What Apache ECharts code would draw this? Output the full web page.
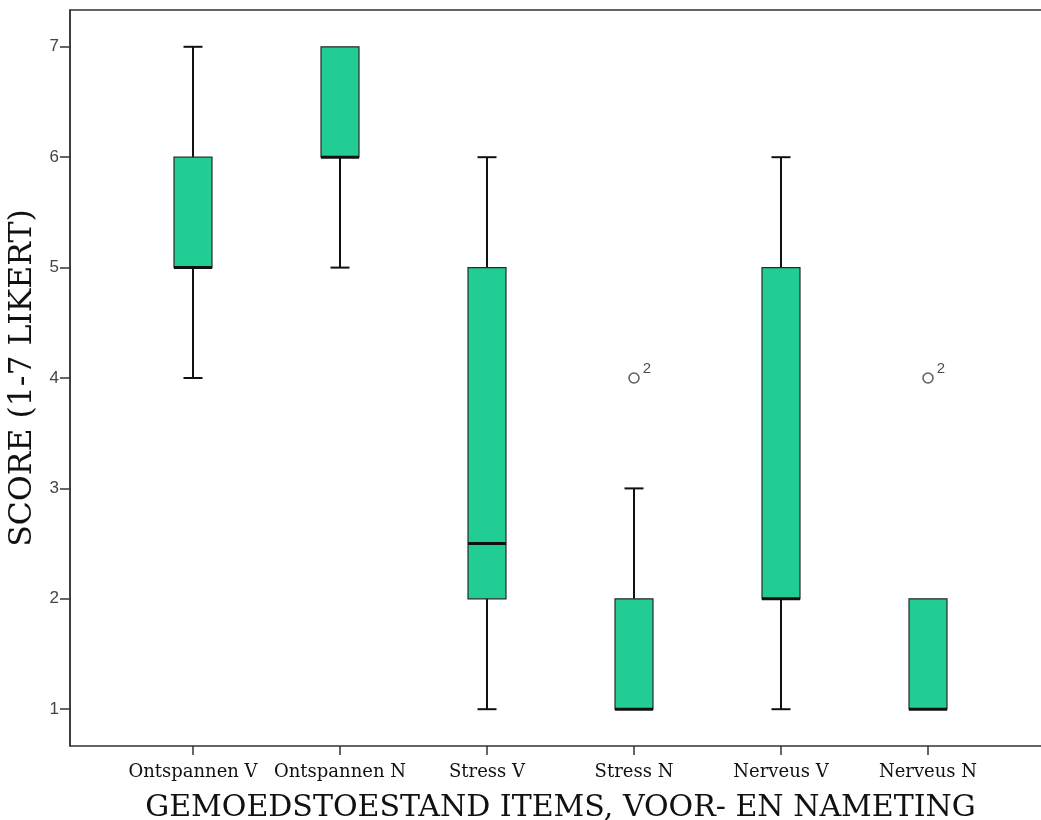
<!DOCTYPE html>
<html>
<head>
<meta charset="utf-8">
<script src="https://cdn.jsdelivr.net/npm/echarts@6/dist/echarts.min.js"></script>
<style>html,body{margin:0;padding:0;background:#fff}#c{width:1041px;height:820px}</style>
</head>
<body>
<div id="c"></div>
<script>
const categories = ['Ontspannen V', 'Ontspannen N', 'Stress V', 'Stress N', 'Nerveus V', 'Nerveus N'];
// [min, Q1, median, Q3, max]
const boxValues = [
  [4, 5, 5, 6, 7],
  [5, 6, 6, 7, 7],
  [1, 2, 2.5, 5, 6],
  [1, 1, 1, 2, 3],
  [1, 2, 2, 5, 6],
  [1, 1, 1, 2, 2]
];
const outliers = [[3, 4, '2'], [5, 4, '2']];
const yTicks = [1, 2, 3, 4, 5, 6, 7];
const yMin = 2 / 3, yMax = 7 + 1 / 3;

const chart = echarts.init(document.getElementById('c'));
const boxData = boxValues.map((v, i) => [i].concat(v));

function renderBox(params, api) {
  const i = api.value(0);
  const vals = [1, 2, 3, 4, 5].map(k => api.value(k));
  const p = vals.map(v => api.coord([i, v]));
  const cx = p[0][0];
  const bw = 19, cw = 9.5;
  const black = '#111';
  const ch = [];
  const line = (x1, y1, x2, y2, w) => ({type: 'line', shape: {x1, y1, x2, y2}, style: {stroke: black, lineWidth: w}});
  if (vals[0] < vals[1]) {
    ch.push(line(cx, p[0][1], cx, p[1][1], 2));
    ch.push(line(cx - cw, p[0][1], cx + cw, p[0][1], 2));
  }
  if (vals[4] > vals[3]) {
    ch.push(line(cx, p[3][1], cx, p[4][1], 2));
    ch.push(line(cx - cw, p[4][1], cx + cw, p[4][1], 2));
  }
  ch.push({type: 'rect', shape: {x: cx - bw, y: p[3][1], width: bw * 2, height: p[1][1] - p[3][1]},
    style: {fill: '#22cd95', stroke: '#2a2a2a', lineWidth: 1.2}});
  ch.push(line(cx - bw, p[2][1], cx + bw, p[2][1], 3));
  return {type: 'group', children: ch};
}

chart.setOption({
  animation: false,
  grid: [
    {left: 70, top: 10, bottom: 74, right: -60, show: true, borderColor: '#333', borderWidth: 1.5,
      backgroundColor: '#fff', outerBoundsMode: 'none', containLabel: false},
    {left: 119.5, width: 882, top: 10, bottom: 74, outerBoundsMode: 'none', containLabel: false}
  ],
  xAxis: [
    {gridIndex: 0, type: 'value', show: false, min: 0, max: 1},
    {gridIndex: 1, type: 'category', data: categories, boundaryGap: true,
      axisLine: {show: false},
      axisTick: {show: true, alignWithLabel: true, interval: 0, length: 9, lineStyle: {color: '#333', width: 1.5}},
      axisLabel: {interval: 0, hideOverlap: false, fontFamily: 'DejaVu Serif', fontSize: 18, color: '#111', margin: 17},
      name: 'GEMOEDSTOESTAND ITEMS, VOOR- EN NAMETING', nameLocation: 'middle', nameGap: 47,
      nameTextStyle: {fontFamily: 'DejaVu Serif', fontSize: 30, color: '#111'}
    }
  ],
  yAxis: [
    {gridIndex: 0, type: 'value', min: yMin, max: yMax,
      axisLine: {show: true, lineStyle: {color: '#333', width: 1.5}},
      axisTick: {show: true, length: 10, customValues: yTicks, lineStyle: {color: '#333', width: 1.5}},
      axisLabel: {show: true, customValues: yTicks, fontFamily: 'Liberation Sans', fontSize: 17, color: '#444', margin: 11},
      splitLine: {show: false},
      name: 'SCORE (1-7 LIKERT)', nameLocation: 'middle', nameGap: 30, nameRotate: 90,
      nameTextStyle: {fontFamily: 'DejaVu Serif', fontSize: 31.5, color: '#111'}
    },
    {gridIndex: 1, type: 'value', min: yMin, max: yMax, show: false}
  ],
  series: [
    {type: 'custom', xAxisIndex: 1, yAxisIndex: 1, data: boxData, renderItem: renderBox,
      encode: {x: 0, y: [1, 2, 3, 4, 5]}},
    {type: 'scatter', xAxisIndex: 1, yAxisIndex: 1, data: outliers, symbol: 'circle', symbolSize: 10,
      itemStyle: {color: '#fff', borderColor: '#333', borderWidth: 1.5},
      label: {show: true, formatter: p => p.value[2], position: 'right', distance: 3, offset: [0, -9],
        fontFamily: 'Liberation Sans', fontSize: 15, color: '#222'}}
  ]
});
</script>
</body>
</html>
